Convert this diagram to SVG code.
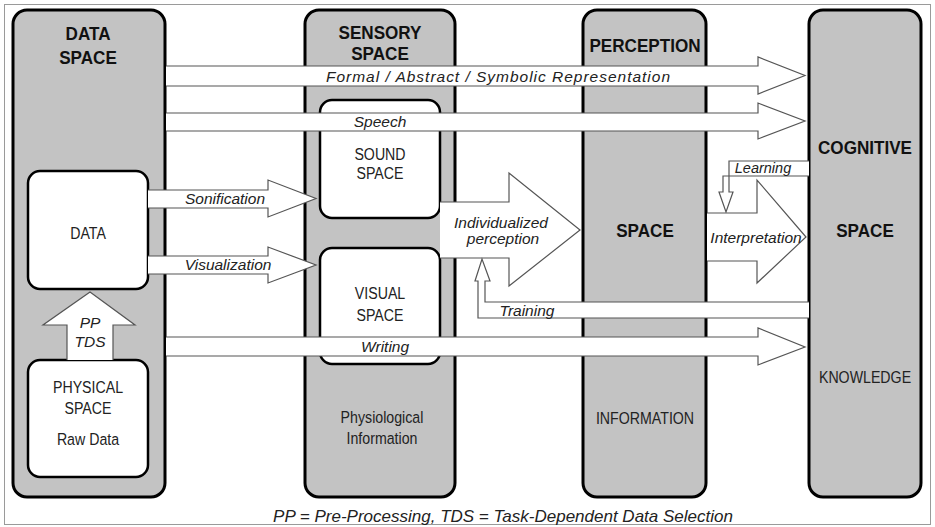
<svg xmlns="http://www.w3.org/2000/svg" width="935" height="527" viewBox="0 0 935 527">
<style>
.col{fill:#c3c3c3;stroke:#000;stroke-width:3}
.box{fill:#fff;stroke:#000;stroke-width:2.5}
.arr{fill:#fff;stroke:#555;stroke-width:1.2;stroke-linejoin:miter}
text{font-family:"Liberation Sans",Arial,sans-serif;fill:#222;text-anchor:middle}
.t{font-weight:bold;font-size:19px;fill:#111}
.n{font-size:16.5px}
.i{font-style:italic;font-size:15.5px}
</style>
<rect x="4.5" y="4.5" width="926" height="520" fill="#fff" stroke="#9a9a9a" stroke-width="1"/>
<g id="data-space">
<rect class="col" x="13" y="10" width="152" height="487" rx="14"/>
<text class="t" transform="translate(88,40) scale(0.9,1)">DATA</text>
<text class="t" transform="translate(88,64) scale(0.9,1)">SPACE</text>
</g>
<g id="sensory-space">
<rect class="col" x="305" y="10" width="150" height="487" rx="14"/>
<text class="t" transform="translate(380,39) scale(0.9,1)">SENSORY</text>
<text class="t" transform="translate(380,60) scale(0.9,1)">SPACE</text>
<text class="n" transform="translate(382,423) scale(0.86,1)">Physiological</text>
<text class="n" transform="translate(382,444) scale(0.86,1)">Information</text>
</g>
<g id="perception-space">
<rect class="col" x="583" y="10" width="123" height="487" rx="14"/>
<text class="t" transform="translate(645,52) scale(0.9,1)">PERCEPTION</text>
<text class="t" transform="translate(645,237) scale(0.9,1)">SPACE</text>
<text class="n" transform="translate(645,424) scale(0.86,1)">INFORMATION</text>
</g>
<g id="cognitive-space">
<rect class="col" x="809" y="10" width="112" height="487" rx="14"/>
<text class="t" transform="translate(865,154) scale(0.9,1)">COGNITIVE</text>
<text class="t" transform="translate(865,237) scale(0.9,1)">SPACE</text>
<text class="n" transform="translate(865,383) scale(0.86,1)">KNOWLEDGE</text>
</g>
<g id="data">
<rect class="box" x="28" y="171" width="120" height="118" rx="12"/>
<text class="n" transform="translate(88,239) scale(0.86,1)">DATA</text>
</g>
<g id="physical-space">
<rect class="box" x="28" y="360" width="120" height="117" rx="12"/>
<text class="n" transform="translate(88,393) scale(0.86,1)">PHYSICAL</text>
<text class="n" transform="translate(88,414) scale(0.86,1)">SPACE</text>
<text class="n" transform="translate(88,445) scale(0.86,1)">Raw Data</text>
</g>
<g id="sound-space">
<rect class="box" x="320" y="100" width="120" height="118" rx="12"/>
<text class="n" transform="translate(380,160) scale(0.86,1)">SOUND</text>
<text class="n" transform="translate(380,179) scale(0.86,1)">SPACE</text>
</g>
<g id="visual-space">
<rect class="box" x="320" y="248" width="120" height="116" rx="12"/>
<text class="n" transform="translate(380,299) scale(0.86,1)">VISUAL</text>
<text class="n" transform="translate(380,321) scale(0.86,1)">SPACE</text>
</g>
<g id="connectors">
<path class="arr" d="M166,66 H758 V57 L805,75.5 L758,94 V86 H166"/>
<text class="i" x="498" y="82" textLength="344" lengthAdjust="spacing">Formal / Abstract / Symbolic Representation</text>
<path class="arr" d="M166,113 H758 V103 L805,121 L758,139 V131 H166"/>
<text class="i" x="380" y="127">Speech</text>
<path class="arr" d="M148,190 H268 V180 L316,198.5 L268,217 V208 H148"/>
<text class="i" x="225" y="204">Sonification</text>
<path class="arr" d="M148,256 H268 V247 L316,265 L268,283 V274 H148"/>
<text class="i" x="228" y="270">Visualization</text>
<path class="arr" d="M67,360 V325 H43 L90,292 L135,325 H113 V360"/>
<text class="i" x="90" y="328">PP</text>
<text class="i" x="90" y="347">TDS</text>
<path class="arr" d="M166,337 H758 V328 L805,347 L758,365 V356 H166"/>
<text class="i" x="385" y="352">Writing</text>
<path class="arr" d="M440,202 H509 V173 L580,230 L509,286 V258 H440"/>
<text class="i" x="501" y="228">Individualized</text>
<text class="i" x="503" y="244">perception</text>
<path class="arr" d="M809,302 H485 V281 H490 L482,259 L475,281 H478 V318 H809"/>
<text class="i" x="527" y="316">Training</text>
<path class="arr" d="M809,161 H729 V192 H733 L726,212 L719,192 H723 V176 H809"/>
<text class="i" x="763" y="173" style="font-size:14.5px">Learning</text>
<path class="arr" d="M707,213 H757 V180 L806,237 L757,283 V261 H707"/>
<text class="i" x="756" y="243">Interpretation</text>
</g>
<text class="i" x="503" y="522" style="font-size:17px">PP = Pre-Processing, TDS = Task-Dependent Data Selection</text>
</svg>
